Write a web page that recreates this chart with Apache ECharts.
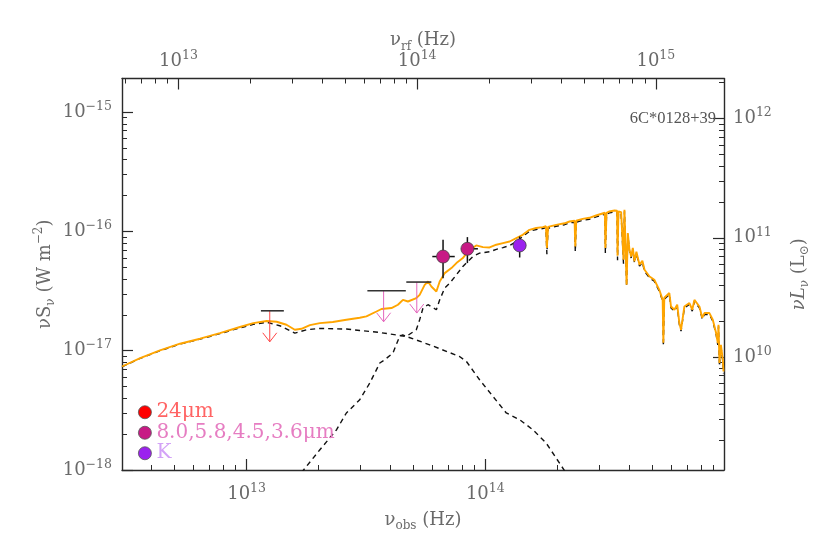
<!DOCTYPE html>
<html><head><meta charset="utf-8">
<script src="https://cdn.jsdelivr.net/npm/echarts@6/dist/echarts.min.js"></script>
<style>html,body{margin:0;padding:0;background:#fff}#c{width:822px;height:548px}</style>
</head><body><div id="c"></div>
<script>
// ---- axis ranges (log10 units) ----
const X_LOG_MIN = 12.478, X_LOG_MAX = 15.0;
const REST_FACTOR = 1.93;            // nu_rf / nu_obs  (1+z)
const Y_LOG_MIN = -18.0, Y_LOG_MAX = -14.717;
const LSUN_LOG_OFFSET = 27.053;      // log(nuL_nu / L_sun) - log(nuS_nu)
const xMajorTicks = [1e13, 1e14, 1e15];
const yMajorTicks = [1e-18, 1e-17, 1e-16, 1e-15];
const lMajorTicks = [1e10, 1e11, 1e12];

// ---- total model (orange) : log10 nu, log10 nuS_nu ----
const totalLogNu = [12.478,12.554,12.637,12.721,12.805,12.888,12.972,13.028,13.084,13.126,13.167,13.202,13.230,13.265,13.307,13.361,13.418,13.474,13.502,13.544,13.565,13.607,13.634,13.655,13.676,13.711,13.725,13.746,13.760,13.774,13.795,13.809,13.830,13.858,13.879,13.906,13.927,13.948,13.962,13.990,14.018,14.046,14.074,14.102,14.130,14.157,14.185,14.213,14.241,14.254,14.258,14.263,14.297,14.332,14.353,14.374,14.377,14.381,14.408,14.436,14.464,14.501,14.503,14.508,14.520,14.541,14.552,14.554,14.558,14.569,14.577,14.579,14.583,14.589,14.592,14.597,14.604,14.611,14.618,14.625,14.633,14.646,14.658,14.667,14.688,14.708,14.729,14.743,14.746,14.750,14.757,14.771,14.778,14.792,14.804,14.813,14.820,14.834,14.855,14.867,14.876,14.897,14.909,14.918,14.939,14.953,14.967,14.974,14.977,14.981,14.987,14.995,14.998];
const totalLogS = [-17.132,-17.061,-16.997,-16.941,-16.899,-16.852,-16.801,-16.768,-16.751,-16.757,-16.782,-16.824,-16.816,-16.785,-16.768,-16.759,-16.740,-16.723,-16.712,-16.671,-16.650,-16.642,-16.614,-16.573,-16.587,-16.558,-16.531,-16.447,-16.419,-16.461,-16.503,-16.419,-16.349,-16.307,-16.265,-16.223,-16.168,-16.137,-16.117,-16.131,-16.134,-16.111,-16.097,-16.084,-16.055,-16.028,-15.986,-15.971,-15.963,-15.956,-16.137,-15.961,-15.944,-15.931,-15.916,-15.910,-16.126,-15.910,-15.894,-15.885,-15.866,-15.843,-16.139,-15.843,-15.832,-15.824,-15.826,-16.204,-15.831,-15.837,-15.835,-16.237,-15.818,-15.826,-16.447,-16.013,-16.153,-16.210,-16.137,-16.251,-16.170,-16.279,-16.246,-16.321,-16.377,-16.405,-16.489,-16.573,-16.933,-16.556,-16.545,-16.516,-16.629,-16.656,-16.614,-16.768,-16.824,-16.629,-16.600,-16.656,-16.573,-16.629,-16.723,-16.684,-16.684,-16.740,-16.852,-16.935,-16.782,-17.103,-16.950,-17.075,-17.174];

// ---- stellar component (black dashed) ----
const starLogNu = [13.206,13.307,13.377,13.418,13.474,13.516,13.558,13.579,13.613,13.641,13.654,13.669,13.711,13.725,13.739,13.760,13.795,13.809,13.830,13.851,13.879,13.906,13.927,13.948,13.976,14.018,14.046,14.074,14.102,14.130,14.157,14.185,14.213,14.241,14.254,14.258,14.263,14.297,14.332,14.353,14.374,14.377,14.381,14.408,14.436,14.464,14.501,14.503,14.508,14.520,14.541,14.552,14.554,14.558,14.569,14.577,14.579,14.583,14.589,14.592,14.597,14.604,14.611,14.618,14.625,14.633,14.646,14.658,14.667,14.688,14.708,14.729,14.743,14.746,14.750,14.757,14.771,14.778,14.792,14.804,14.813,14.820,14.834,14.855,14.867,14.876,14.897,14.909,14.918,14.939,14.953,14.967,14.974,14.977,14.981,14.987,14.995,14.998];
const starLogS = [-18.081,-17.830,-17.662,-17.522,-17.411,-17.271,-17.103,-17.075,-17.019,-16.880,-16.866,-16.880,-16.824,-16.740,-16.642,-16.614,-16.656,-16.573,-16.474,-16.433,-16.363,-16.293,-16.251,-16.210,-16.181,-16.170,-16.150,-16.135,-16.118,-16.085,-16.042,-15.998,-15.983,-15.975,-15.968,-16.190,-15.973,-15.956,-15.943,-15.928,-15.922,-16.170,-15.922,-15.906,-15.897,-15.878,-15.855,-16.180,-15.855,-15.844,-15.836,-15.838,-16.240,-15.843,-15.849,-15.847,-16.270,-15.830,-15.838,-16.460,-16.025,-16.165,-16.222,-16.149,-16.263,-16.182,-16.291,-16.258,-16.333,-16.389,-16.417,-16.501,-16.585,-16.960,-16.568,-16.557,-16.528,-16.641,-16.668,-16.626,-16.780,-16.836,-16.641,-16.612,-16.668,-16.585,-16.641,-16.735,-16.696,-16.696,-16.752,-16.864,-16.950,-16.794,-17.130,-16.962,-17.087,-17.190];

// ---- dust / AGN component (black dashed) ----
const dustLogNu = [12.478,12.554,12.637,12.721,12.805,12.888,12.972,13.028,13.084,13.139,13.202,13.251,13.307,13.418,13.474,13.558,13.669,13.767,13.892,13.921,13.976,14.032,14.088,14.144,14.199,14.255,14.329,14.353];
const dustLogS = [-17.135,-17.064,-17.000,-16.944,-16.903,-16.857,-16.808,-16.779,-16.761,-16.790,-16.852,-16.824,-16.813,-16.818,-16.830,-16.847,-16.880,-16.950,-17.048,-17.090,-17.243,-17.383,-17.522,-17.578,-17.662,-17.774,-17.997,-18.081];

// ---- photometry ----
// upper limits: [log nu, log limit, log nu low, log nu high]
const mips24Limit = [[13.097, -16.665, 13.060, 13.156]];
const iracLimits = [[13.574, -16.497, 13.506, 13.667], [13.713, -16.424, 13.669, 13.774]];
// detections: [log nu, log S, log S low, log S high, log nu low, log nu high]
const iracDetections = [[13.823, -16.210, -16.391, -16.070, 13.778, 13.872], [13.925, -16.145, -16.265, -16.047, 13.900, 13.969]];
const kDetection = [[14.144, -16.117, -16.218, -16.042, 14.144, 14.144]];

const legendNames = ['24μm', '8.0,5.8,4.5,3.6μm', 'K'];

// ---------------------------------------------------------------
const P = v => Math.pow(10, v);
const pairs = (a, b) => a.map((v, i) => [P(v), P(b[i])]);
const unlog = rows => rows.map(r => r.map(P));
const FONT = 'DejaVu Serif';
const GRAY = '#6a6a6a';
const FRAME = '#2a2a2a';

function minors(lo, hi) {
  const out = [];
  for (let k = Math.floor(lo); k <= Math.ceil(hi); k++)
    for (let m = 2; m <= 9; m++) {
      const v = m * Math.pow(10, k), l = Math.log10(v);
      if (l > lo + 1e-6 && l < hi - 1e-6) out.push(v);
    }
  return out;
}
function supLabel(v) {
  const e = Math.round(Math.log10(v));
  return '{b|10}{s|' + (e < 0 ? '−' + (-e) : e) + '}';
}
const labelRich = {
  b: { fontFamily: FONT, fontSize: 18, color: GRAY, lineHeight: 24 },
  s: { fontFamily: FONT, fontSize: 12.5, color: GRAY, verticalAlign: 'top', lineHeight: 12 }
};
const nameRich = {
  n: { fontFamily: FONT, fontSize: 18, color: GRAY, lineHeight: 24 },
  i: { fontFamily: FONT, fontSize: 18, color: GRAY, lineHeight: 24, fontStyle: 'italic' },
  sub: { fontFamily: FONT, fontSize: 12, color: GRAY, verticalAlign: 'bottom', lineHeight: 12 },
  sup: { fontFamily: FONT, fontSize: 12, color: GRAY, verticalAlign: 'top', lineHeight: 12 }
};

function majorAxis(base, pos, lo, hi, ticks, margin, name, nameGap) {
  return Object.assign({
    type: 'log', logBase: 10, position: pos, min: P(lo), max: P(hi),
    axisLine: { show: true, onZero: false, lineStyle: { color: FRAME, width: 1.4 } },
    axisTick: { show: true, inside: true, length: 11, customValues: ticks, lineStyle: { color: FRAME, width: 1.2 } },
    axisLabel: { show: true, customValues: ticks, formatter: supLabel, rich: labelRich, margin: margin, showMinLabel: true, showMaxLabel: true },
    splitLine: { show: false }, minorTick: { show: false }, minorSplitLine: { show: false },
    name: name, nameLocation: 'middle', nameGap: nameGap, nameMoveOverlap: false,
    nameTextStyle: { fontFamily: FONT, fontSize: 18, color: GRAY, rich: nameRich }
  }, base);
}
function minorAxis(base, pos, lo, hi) {
  return Object.assign({
    type: 'log', logBase: 10, position: pos, min: P(lo), max: P(hi),
    axisLine: { show: false },
    axisTick: { show: true, inside: true, length: 5, customValues: minors(lo, hi), lineStyle: { color: FRAME, width: 1 } },
    axisLabel: { show: false }, splitLine: { show: false }, minorTick: { show: false }
  }, base);
}

const rfLo = X_LOG_MIN + Math.log10(REST_FACTOR), rfHi = X_LOG_MAX + Math.log10(REST_FACTOR);
const lLo = Y_LOG_MIN + LSUN_LOG_OFFSET, lHi = Y_LOG_MAX + LSUN_LOG_OFFSET;

const xAxis = [
  majorAxis({}, 'bottom', X_LOG_MIN, X_LOG_MAX, xMajorTicks, 12, '{n|ν}{sub|obs}{n| (Hz)}', 38),
  minorAxis({}, 'bottom', X_LOG_MIN, X_LOG_MAX),
  majorAxis({}, 'top', rfLo, rfHi, xMajorTicks, 5, '{n|ν}{sub|rf}{n| (Hz)}', 26),
  minorAxis({}, 'top', rfLo, rfHi)
];
const yAxis = [
  majorAxis({ nameRotate: 90 }, 'left', Y_LOG_MIN, Y_LOG_MAX, yMajorTicks, 10, '{n|νS}{sub|ν}{n| (W m}{sup|−2}{n|)}', 65),
  minorAxis({}, 'left', Y_LOG_MIN, Y_LOG_MAX),
  majorAxis({ nameRotate: 90 }, 'right', lLo, lHi, lMajorTicks, 9, '{i|νL}{sub|ν}{n| (L}{sub|⊙}{n|)}', 63),
  minorAxis({}, 'right', lLo, lHi)
];

function limitRenderer(arrowColor) {
  return function (params, api) {
    const p = api.coord([api.value(0), api.value(1)]);
    const pl = api.coord([api.value(2), api.value(1)]);
    const ph = api.coord([api.value(3), api.value(1)]);
    const L = 31, hw = 7, hh = 9;
    return { type: 'group', children: [
      { type: 'line', shape: { x1: p[0], y1: p[1], x2: p[0], y2: p[1] + L }, style: { stroke: arrowColor, lineWidth: 1 } },
      { type: 'polyline', shape: { points: [[p[0] - hw, p[1] + L - hh], [p[0], p[1] + L], [p[0] + hw, p[1] + L - hh]] }, style: { stroke: arrowColor, fill: null, lineWidth: 1 } },
      { type: 'line', shape: { x1: pl[0], y1: p[1], x2: ph[0], y2: p[1] }, style: { stroke: '#333', lineWidth: 1.6 } }
    ]};
  };
}
function errRenderer(params, api) {
  const nu = api.value(0), s = api.value(1);
  const a = api.coord([nu, api.value(2)]), b = api.coord([nu, api.value(3)]);
  const c = api.coord([api.value(4), s]), d = api.coord([api.value(5), s]);
  return { type: 'group', children: [
    { type: 'line', shape: { x1: a[0], y1: a[1], x2: b[0], y2: b[1] }, style: { stroke: '#111', lineWidth: 1.5 } },
    { type: 'line', shape: { x1: c[0], y1: c[1], x2: d[0], y2: d[1] }, style: { stroke: '#111', lineWidth: 1.5 } }
  ]};
}

const option = {
  animation: false,
  backgroundColor: '#fff',
  grid: { left: 122, top: 78.5, width: 602, height: 391.5, containLabel: false, show: false },
  title: { text: '6C*0128+39', right: 101, top: 105, textStyle: { fontFamily: 'Liberation Serif', fontSize: 16.5, fontWeight: 'normal', color: '#555' } },
  legend: {
    orient: 'vertical', left: 133, top: 397, itemWidth: 13, itemHeight: 13, itemGap: 0, icon: 'circle', selectedMode: false,
    textStyle: { fontFamily: FONT, fontSize: 20, lineHeight: 20.5 },
    data: [
      { name: legendNames[0], itemStyle: { color: '#FF0000', borderColor: '#555', borderWidth: 0.8 }, textStyle: { color: '#FF6464' } },
      { name: legendNames[1], itemStyle: { color: '#C71A85', borderColor: '#555', borderWidth: 0.8 }, textStyle: { color: '#E67DC2' } },
      { name: legendNames[2], itemStyle: { color: '#9B22EE', borderColor: '#555', borderWidth: 0.8 }, textStyle: { color: '#D3A2F7' } }
    ]
  },
  xAxis: xAxis,
  yAxis: yAxis,
  series: [
    { type: 'line', name: 'dust', xAxisIndex: 0, yAxisIndex: 0, data: pairs(dustLogNu, dustLogS), showSymbol: false, symbol: 'none',
      lineStyle: { color: '#111', width: 1.4, type: [5, 4] }, z: 2 },
    { type: 'line', name: 'stars', xAxisIndex: 0, yAxisIndex: 0, data: pairs(starLogNu, starLogS), showSymbol: false, symbol: 'none',
      lineStyle: { color: '#111', width: 1.4, type: [5, 4] }, z: 2 },
    { type: 'line', name: 'total', xAxisIndex: 0, yAxisIndex: 0, data: pairs(totalLogNu, totalLogS), showSymbol: false, symbol: 'none',
      lineStyle: { color: '#FFA500', width: 1.9 }, z: 3 },
    { type: 'custom', name: legendNames[0], xAxisIndex: 0, yAxisIndex: 0, data: unlog(mips24Limit), itemStyle: { color: '#FF0000' },
      renderItem: limitRenderer('#FF4545'), encode: { x: 0, y: 1 }, z: 5 },
    { type: 'custom', name: 'IRAC limits', xAxisIndex: 0, yAxisIndex: 0, data: unlog(iracLimits), itemStyle: { color: '#E066B8' },
      renderItem: limitRenderer('#E466BC'), encode: { x: 0, y: 1 }, z: 5 },
    { type: 'custom', name: 'errors', xAxisIndex: 0, yAxisIndex: 0, data: unlog(iracDetections.concat(kDetection)),
      renderItem: errRenderer, encode: { x: 0, y: 1 }, z: 6 },
    { type: 'scatter', name: legendNames[1], xAxisIndex: 0, yAxisIndex: 0, data: unlog(iracDetections).map(r => [r[0], r[1]]),
      symbolSize: 13, itemStyle: { color: '#C71A85', borderColor: '#444', borderWidth: 0.8, opacity: 1 }, z: 7 },
    { type: 'scatter', name: legendNames[2], xAxisIndex: 0, yAxisIndex: 0, data: unlog(kDetection).map(r => [r[0], r[1]]),
      symbolSize: 13, itemStyle: { color: '#9B22EE', borderColor: '#444', borderWidth: 0.8, opacity: 1 }, z: 7 }
  ]
};
const chart = echarts.init(document.getElementById('c'), null, { renderer: 'canvas' });
chart.setOption(option);
</script>
</body></html>
